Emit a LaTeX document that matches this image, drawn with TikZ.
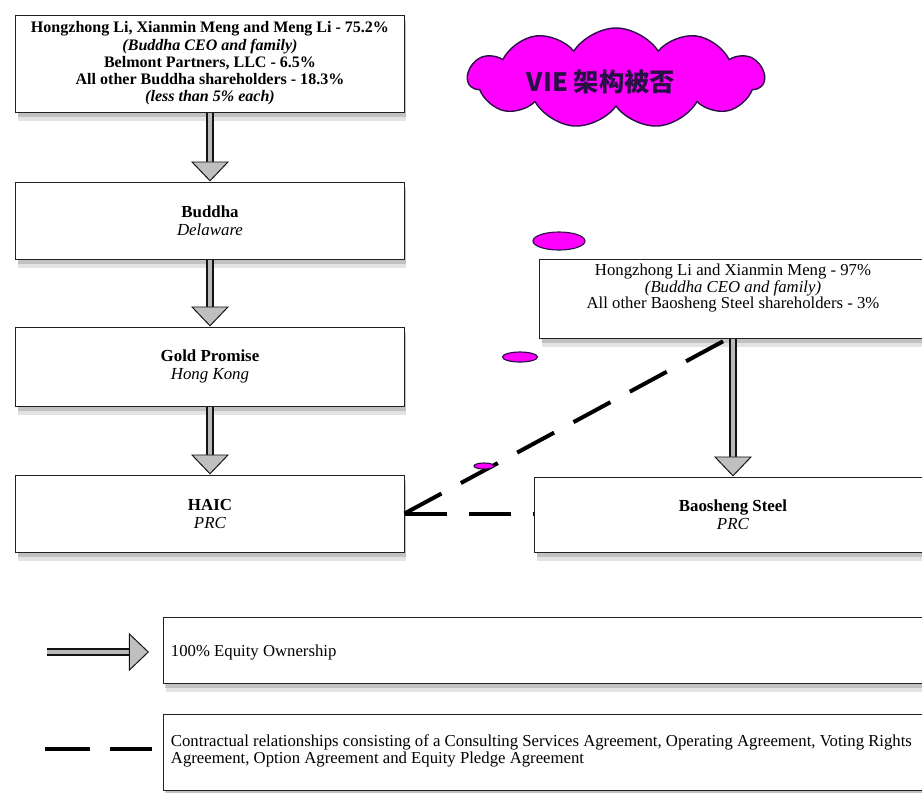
\documentclass[tikz,border=0pt]{standalone}
\usepackage{fontspec}
\setmainfont{Liberation Serif}
\newfontfamily\cjk{Noto Sans CJK SC}
\usepackage{tikz}
\usetikzlibrary{arrows.meta}
\usetikzlibrary{shadows}
\usetikzlibrary{shapes.symbols}
\usetikzlibrary{shapes.geometric}
\definecolor{vieink}{RGB}{40,16,70}
\definecolor{viefill}{RGB}{255,0,255}
\tikzset{box/.style={draw=gray!25!black, line width=0.7pt, fill=white, align=center,
    font=\fontsize{12}{12.8}\selectfont,
    drop shadow={shadow xshift=0.06cm, shadow yshift=-0.22cm, opacity=0.22},
    drop shadow={shadow xshift=0.04cm, shadow yshift=-0.12cm, opacity=0.35}}}
\tikzset{own/.style={draw=gray!15!black, line width=0.9pt, double=gray!55, double distance=0.12cm,
    -{Triangle[length=0.5cm, width=0.95cm, fill=gray!50, color=gray!15!black, line width=0.7pt]}}}
\tikzset{ctr/.style={line width=0.1cm, dash pattern=on 1.05cm off 0.55cm}}
\tikzset{bubble/.style={ellipse, draw=vieink, fill=viefill, line width=0.8pt, inner sep=0pt}}
\tikzset{l/.style={font=\fontsize{11.9}{12.2}\selectfont, align=left, anchor=west}}

\begin{document}
\begin{tikzpicture}[x=0.025cm, y=-0.025cm]
  \useasboundingbox (0,0) rectangle (922,792);
  \clip (0,0) rectangle (922,792);
  % ownership chain
  \node[box, minimum width=9.7cm, minimum height=2.425cm, font=\fontsize{11.4}{12.3}\selectfont\bfseries] (owners) at (210,63.5)
    {Hongzhong Li, Xianmin Meng and Meng Li - 75.2\%\\ \textit{(Buddha CEO and family)}\\
     Belmont Partners, LLC - 6.5\%\\ All other Buddha shareholders - 18.3\%\\ \textit{(less than 5\% each)}};
  \node[box, minimum width=9.7cm, minimum height=1.925cm] (buddha) at (210,220.5)
    {\textbf{Buddha}\\ \textit{Delaware}};
  \node[box, minimum width=9.7cm, minimum height=1.975cm] (gold) at (210,366.5)
    {\textbf{Gold Promise}\\ \textit{Hong Kong}};
  \node[box, minimum width=9.7cm, minimum height=1.925cm] (haic) at (210,513.5)
    {\textbf{HAIC}\\ \textit{PRC}};
  \node[box, minimum width=9.65cm, minimum height=1.975cm] (holders) at (733,298.5) {};
  \node[align=center, font=\fontsize{11.9}{10.7}\selectfont] (holderstxt) at (733,288)
    {Hongzhong Li and Xianmin Meng - 97\%\\ \textit{(Buddha CEO and family)}\\
     All other Baosheng Steel shareholders - 3\%};
  \node[box, minimum width=9.9cm, minimum height=1.875cm] (steel) at (733,514.5)
    {\textbf{Baosheng Steel}\\ \textit{PRC}};
  \draw[own] (owners) -- (buddha);
  \draw[own] (buddha) -- (gold);
  \draw[own] (gold) -- (haic);
  \draw[own] (holders) -- (steel);
  % contracts
  \draw[ctr] (haic.east) -- ([xshift=-0.12cm]holders.south);
  \draw[ctr] (haic.east) -- (steel.west |- haic.east);
  % cloud
  \node[cloud, cloud puffs=11, cloud puff arc=115, aspect=2.9, draw=vieink, line width=1pt, fill=viefill,
    minimum width=7.4cm, minimum height=2.5cm] (vie) at (616,78) {};
  \node[font=\cjk\bfseries\fontsize{18}{18}\selectfont, text=vieink] (vietxt) at (601,82) {VIE 架构被否};
  \node[bubble, minimum width=1.3cm, minimum height=0.45cm] (b1) at (559,241) {};
  \node[bubble, minimum width=0.875cm, minimum height=0.25cm] (b2) at (520,357) {};
  \node[bubble, minimum width=0.5cm, minimum height=0.15cm] (b3) at (484,466) {};
  % legend
  \node[box, minimum width=19.425cm, minimum height=1.65cm, anchor=west] (legenda) at (163,650) {};
  \node[l] (legendatxt) at (166,652) {100\% Equity Ownership};
  \node[box, minimum width=19.425cm, minimum height=1.9cm, anchor=west] (legendb) at (163,752) {};
  \node[l] (legendbtxt) at (166,751) {Contractual relationships consisting of a Consulting Services Agreement, Operating Agreement, Voting Rights\\
    Agreement, Option Agreement and Equity Pledge Agreement};
  \coordinate (ownL) at (47,652);
  \coordinate (ownR) at (149,652);
  \draw[own] (ownL) -- (ownR);
  \coordinate (ctrL) at (45,749);
  \coordinate (ctrR) at (152,749);
  \draw[ctr, line width=0.12cm, dash pattern=on 1.12cm off 0.5cm] (ctrL) -- (ctrR);
\end{tikzpicture}
\end{document}
